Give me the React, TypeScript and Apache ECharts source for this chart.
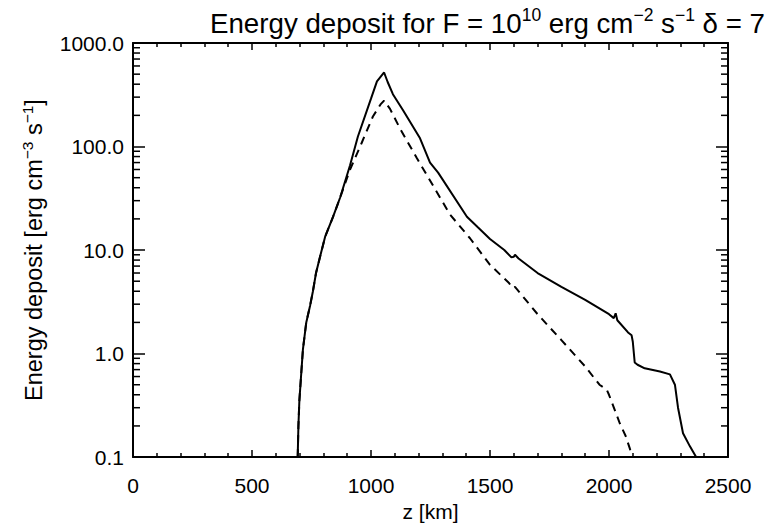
import React, { useEffect, useRef } from "react";
import * as echarts from "echarts";

const solidZ = [692, 695, 699, 706, 714, 728, 744, 756, 769, 788, 807, 840, 870, 912, 945, 1000, 1025, 1055, 1070, 1092, 1134, 1206, 1248, 1282, 1403, 1450, 1500, 1560, 1590, 1600, 1605, 1620, 1700, 1800, 1900, 2000, 2020, 2028, 2035, 2080, 2095, 2100, 2108, 2120, 2150, 2214, 2256, 2277, 2290, 2311, 2340, 2366];
const solidE = [0.1, 0.2, 0.35, 0.6, 1.1, 2.0, 2.9, 4.0, 6.0, 9.0, 13.4, 20.8, 32, 66, 125, 290, 426, 519, 420, 320, 225, 120, 70, 56, 21, 16.5, 12.8, 10, 8.5, 8.6, 9.0, 8.3, 6.0, 4.4, 3.3, 2.4, 2.2, 2.45, 2.1, 1.6, 1.5, 1.3, 0.82, 0.78, 0.72, 0.67, 0.63, 0.5, 0.3, 0.17, 0.127, 0.1];

const dashedZ = [692, 695, 699, 706, 714, 728, 744, 756, 769, 788, 807, 840, 870, 912, 925, 962, 1008, 1040, 1055, 1080, 1122, 1193, 1248, 1332, 1416, 1500, 1580, 1595, 1605, 1700, 1800, 1900, 1960, 1990, 2000, 2046, 2070, 2088, 2097];
const dashedE = [0.1, 0.2, 0.35, 0.6, 1.1, 2.0, 2.9, 4.0, 6.0, 9.0, 13.4, 20.8, 32, 60, 70, 110, 195, 255, 278, 231, 149, 77, 47, 22, 13, 7.2, 4.8, 4.3, 4.4, 2.4, 1.35, 0.75, 0.5, 0.45, 0.4, 0.21, 0.16, 0.12, 0.1];

const yMinorTicks = [0.2, 0.3, 0.4, 0.5, 0.6, 0.7, 0.8, 0.9, 2, 3, 4, 5, 6, 7, 8, 9, 20, 30, 40, 50, 60, 70, 80, 90, 200, 300, 400, 500, 600, 700, 800, 900];

const FONT = "Liberation Sans";

export default function App() {
  const ref = useRef<HTMLDivElement>(null);
  useEffect(() => {
    if (!ref.current) return;
    const chart = echarts.init(ref.current, null, { renderer: "svg" });
    const zip = (a: number[], b: number[]) => a.map((v, i) => [v, b[i]]);
    const axisLineStyle = { color: "#000", width: 2 };
    const xCommon = {
      type: "value" as const,
      min: 0,
      max: 2500,
      interval: 500,
      axisLine: { show: true, onZero: false, lineStyle: axisLineStyle },
      axisTick: { show: true, inside: true, length: 7, lineStyle: { color: "#000", width: 1.5 } },
      minorTick: { show: true, splitNumber: 5, length: 4, lineStyle: { color: "#000", width: 1.5 } },
      splitLine: { show: false },
      minorSplitLine: { show: false },
    };
    const yCommon = {
      type: "log" as const,
      logBase: 10,
      min: 0.1,
      max: 1000,
      axisLine: { show: true, onZero: false, lineStyle: axisLineStyle },
      axisTick: { show: true, inside: true, length: 12, lineStyle: { color: "#000", width: 1.5 } },
      splitLine: { show: false },
    };
    const sup = { fontSize: 15, lineHeight: 16, verticalAlign: "top" as const, fontFamily: FONT, color: "#000" };
    chart.setOption({
      animation: false,
      backgroundColor: "#fff",
      title: {
        text: "Energy deposit for F = 10{sup|10} erg cm{sup|−2} s{sup|−1} δ = 7",
        left: 205,
        top: 1,
        textStyle: {
          fontFamily: FONT,
          fontSize: 27.7,
          fontWeight: "normal",
          color: "#000",
          lineHeight: 34,
          rich: {
            sup: { ...sup, fontSize: 17.5, lineHeight: 19 },
          },
        },
      },
      grid: { left: 133, right: 41, top: 43, bottom: 63, containLabel: false },
      xAxis: [
        {
          ...xCommon,
          position: "bottom",
          name: "z [km]",
          nameLocation: "middle",
          nameGap: 35,
          nameTextStyle: { fontFamily: FONT, fontSize: 21, color: "#000" },
          axisLabel: { show: true, margin: 18, fontFamily: FONT, fontSize: 21, color: "#000", formatter: (v: number) => String(v) },
        },
        { ...xCommon, position: "top", axisLabel: { show: false } },
      ],
      yAxis: [
        {
          ...yCommon,
          position: "left",
          name: "Energy deposit [erg cm{sup|−3} s{sup|−1}]",
          nameLocation: "middle",
          nameGap: 79,
          nameRotate: 90,
          nameTextStyle: {
            fontFamily: FONT,
            fontSize: 23.5,
            color: "#000",
            lineHeight: 29,
            rich: { sup: { ...sup, fontSize: 15.5, lineHeight: 15 } },
          },
          axisLabel: {
            show: true,
            margin: 9,
            fontFamily: FONT,
            fontSize: 21,
            color: "#000",
            formatter: (v: number) => v.toFixed(1),
          },
        },
        { ...yCommon, position: "right", axisLabel: { show: false } },
      ],
      series: [
        {
          type: "custom",
          xAxisIndex: 0,
          yAxisIndex: 0,
          silent: true,
          clip: false,
          data: yMinorTicks.map((v) => [0, v]),
          renderItem: (params: any, api: any) => {
            const pt = api.coord([0, api.value(1)]);
            const cs = params.coordSys;
            const l = cs.x;
            const r = cs.x + cs.width;
            const style = { stroke: "#000", lineWidth: 1.5 };
            return {
              type: "group",
              children: [
                { type: "line", shape: { x1: l, y1: pt[1], x2: l + 7, y2: pt[1] }, style },
                { type: "line", shape: { x1: r, y1: pt[1], x2: r - 7, y2: pt[1] }, style },
              ],
            };
          },
        },
        {
          type: "line",
          data: zip(solidZ, solidE),
          showSymbol: false,
          symbol: "none",
          lineStyle: { color: "#000", width: 2 },
        },
        {
          type: "line",
          data: zip(dashedZ, dashedE),
          showSymbol: false,
          symbol: "none",
          lineStyle: { color: "#000", width: 2, type: [8, 6] },
        },
      ],
    });
    return () => chart.dispose();
  }, []);
  return <div ref={ref} style={{ width: 769, height: 527, position: "absolute", left: 0, top: 0 }} />;
}
